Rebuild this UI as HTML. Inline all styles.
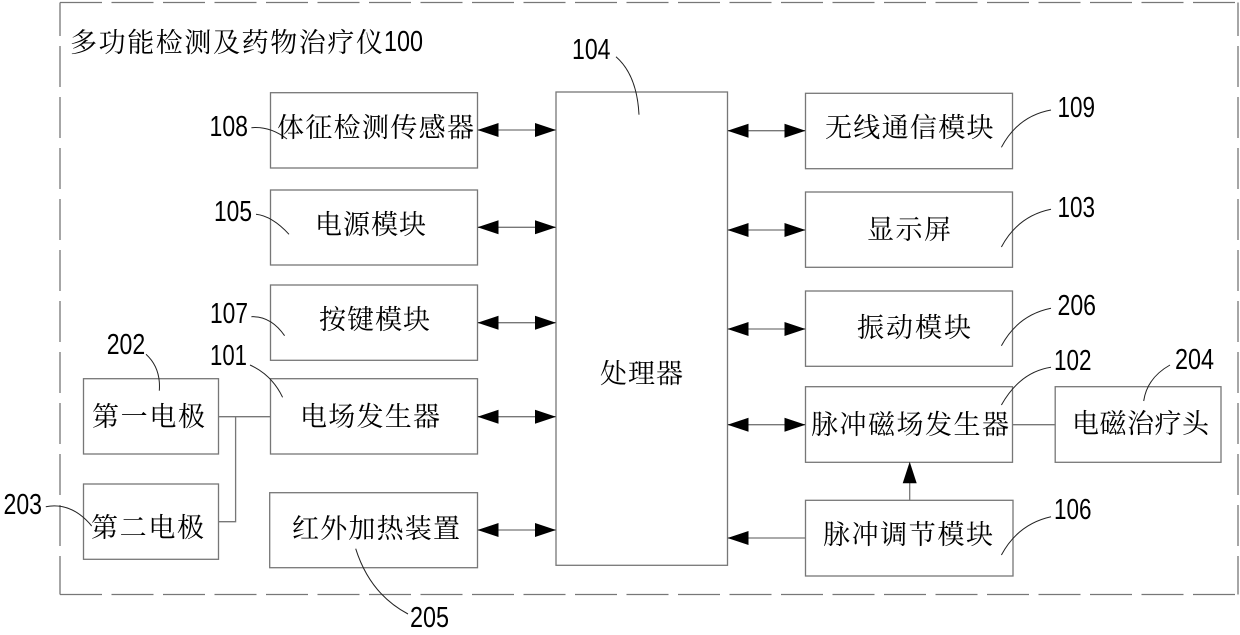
<!DOCTYPE html>
<html><head><meta charset="utf-8"><style>
html,body{margin:0;padding:0;background:#fff;width:1240px;height:635px;overflow:hidden}
svg{display:block}
.c{font-family:"Liberation Serif","Noto Serif CJK SC",serif;font-size:27px;fill:#000}
.n{font-family:"Liberation Sans",sans-serif;font-size:29px;fill:#000}
.b rect{fill:none;stroke:#777;stroke-width:1.3}
.l{fill:none;stroke:#777;stroke-width:1.3}
.q{fill:none;stroke:#222;stroke-width:1}
</style></head><body>
<svg width="1240" height="635" viewBox="0 0 1240 635" xmlns="http://www.w3.org/2000/svg">
<g class="l" stroke-dasharray="42 9.5">
<line x1="60" y1="2.5" x2="1238" y2="2.5"/>
<line x1="60" y1="594.5" x2="1238" y2="594.5"/>
</g>
<g class="l" stroke-dasharray="41 10" stroke-dashoffset="7.5">
<line x1="60" y1="2.5" x2="60" y2="594.5"/>
<line x1="1238" y1="2.5" x2="1238" y2="594.5"/>
</g>
<g class="b">
<rect x="270.5" y="92.7" width="207" height="75.3"/>
<rect x="270.5" y="190" width="207" height="75"/>
<rect x="270.5" y="285" width="207" height="75.3"/>
<rect x="270.5" y="378.7" width="207" height="75.3"/>
<rect x="83.5" y="378.7" width="135" height="75.3"/>
<rect x="83.5" y="484" width="135" height="75.3"/>
<rect x="269.7" y="492.7" width="207.8" height="75"/>
<rect x="556" y="92" width="171.5" height="473.3"/>
<rect x="805.5" y="93.3" width="207" height="75.4"/>
<rect x="805.5" y="192" width="207" height="75.3"/>
<rect x="805.5" y="291" width="207" height="75.3"/>
<rect x="805.5" y="386.7" width="207" height="75.6"/>
<rect x="805.5" y="500.3" width="207.5" height="75.7"/>
<rect x="1055.2" y="386.7" width="165.8" height="75.6"/>
</g>
<g class="l">
<path d="M218.6 416.7H270M235.6 416.7V521.7H218.6M1012.5 424.7H1055.2"/>
<path d="M477.5 130H556M477.5 227.3H556M477.5 322.7H556M477.5 416.7H556M477.5 530H556"/>
<path d="M727.5 130.7H805.5M727.5 230H805.5M727.5 329H805.5M727.5 424.7H805.5M727.5 538H805.5"/>
<path d="M909.7 500V480"/>
</g>
<g fill="#000">
<path d="M477.5 130l21-7v14zM556 130l-21-7v14z"/>
<path d="M477.5 227.3l21-7v14zM556 227.3l-21-7v14z"/>
<path d="M477.5 322.7l21-7v14zM556 322.7l-21-7v14z"/>
<path d="M477.5 416.7l21-7v14zM556 416.7l-21-7v14z"/>
<path d="M477.5 530l21-7v14zM556 530l-21-7v14z"/>
<path d="M727.5 130.7l21-7v14zM805.5 130.7l-21-7v14z"/>
<path d="M727.5 230l21-7v14zM805.5 230l-21-7v14z"/>
<path d="M727.5 329l21-7v14zM805.5 329l-21-7v14z"/>
<path d="M727.5 424.7l21-7v14zM805.5 424.7l-21-7v14z"/>
<path d="M727.5 538l21-7v14z"/>
<path d="M909.7 461.7l-7 21.6h14z"/>
</g>
<g class="q">
<path d="M251.4 127.7Q270 126 287 139"/>
<path d="M256 214.3Q272 216 289 234.3"/>
<path d="M251.4 316.7Q271 316 284.6 335.7"/>
<path d="M146 354.3Q161 368 159.3 390.7"/>
<path d="M250 365Q272 375 282.6 397.3"/>
<path d="M45.8 506.7Q72 502 91.7 526"/>
<path d="M355.7 548.7Q370 594 408 614"/>
<path d="M616 56.7Q637 75 639 114.7"/>
<path d="M1051 110Q1018 116 1001.4 147.3"/>
<path d="M1051 209.3Q1018 216 1001.4 247"/>
<path d="M1051 308.3Q1018 315 1001.4 345.7"/>
<path d="M1051 367.3Q1020 372 1001.4 405"/>
<path d="M1170 365Q1147 378 1143.7 401"/>
<path d="M1051 516.7Q1018 524 1001.4 555"/>
</g>
<g class="c">
<text x="70" y="52" textLength="313">多功能检测及药物治疗仪</text>
<text x="277" y="137" textLength="197">体征检测传感器</text>
<text x="315" y="234" textLength="111">电源模块</text>
<text x="319" y="329" textLength="111">按键模块</text>
<text x="300" y="426" textLength="140">电场发生器</text>
<text x="92" y="426" textLength="113">第一电极</text>
<text x="91" y="537" textLength="113">第二电极</text>
<text x="292" y="538" textLength="168">红外加热装置</text>
<text x="600" y="383" textLength="83">处理器</text>
<text x="825" y="137" textLength="168.5">无线通信模块</text>
<text x="867" y="239" textLength="84">显示屏</text>
<text x="857" y="337" textLength="114">振动模块</text>
<text x="811" y="434" textLength="198">脉冲磁场发生器</text>
<text x="1072" y="433" textLength="137">电磁治疗头</text>
<text x="823" y="544" textLength="170">脉冲调节模块</text>
</g>
<g class="n">
<text x="384" y="51" textLength="39" lengthAdjust="spacingAndGlyphs">100</text>
<text x="572" y="59" textLength="38.5" lengthAdjust="spacingAndGlyphs">104</text>
<text x="209.5" y="136" textLength="38.5" lengthAdjust="spacingAndGlyphs">108</text>
<text x="214" y="221" textLength="38" lengthAdjust="spacingAndGlyphs">105</text>
<text x="210" y="323" textLength="38" lengthAdjust="spacingAndGlyphs">107</text>
<text x="106.7" y="354" textLength="38.5" lengthAdjust="spacingAndGlyphs">202</text>
<text x="210" y="365" textLength="37" lengthAdjust="spacingAndGlyphs">101</text>
<text x="3.5" y="514" textLength="38.5" lengthAdjust="spacingAndGlyphs">203</text>
<text x="410" y="627" textLength="39" lengthAdjust="spacingAndGlyphs">205</text>
<text x="1057.5" y="117" textLength="37.5" lengthAdjust="spacingAndGlyphs">109</text>
<text x="1057.5" y="217" textLength="37.5" lengthAdjust="spacingAndGlyphs">103</text>
<text x="1057.5" y="315" textLength="38.5" lengthAdjust="spacingAndGlyphs">206</text>
<text x="1054" y="370" textLength="37.5" lengthAdjust="spacingAndGlyphs">102</text>
<text x="1175" y="369" textLength="39" lengthAdjust="spacingAndGlyphs">204</text>
<text x="1054" y="519" textLength="37.5" lengthAdjust="spacingAndGlyphs">106</text>
</g>
</svg>
</body></html>
